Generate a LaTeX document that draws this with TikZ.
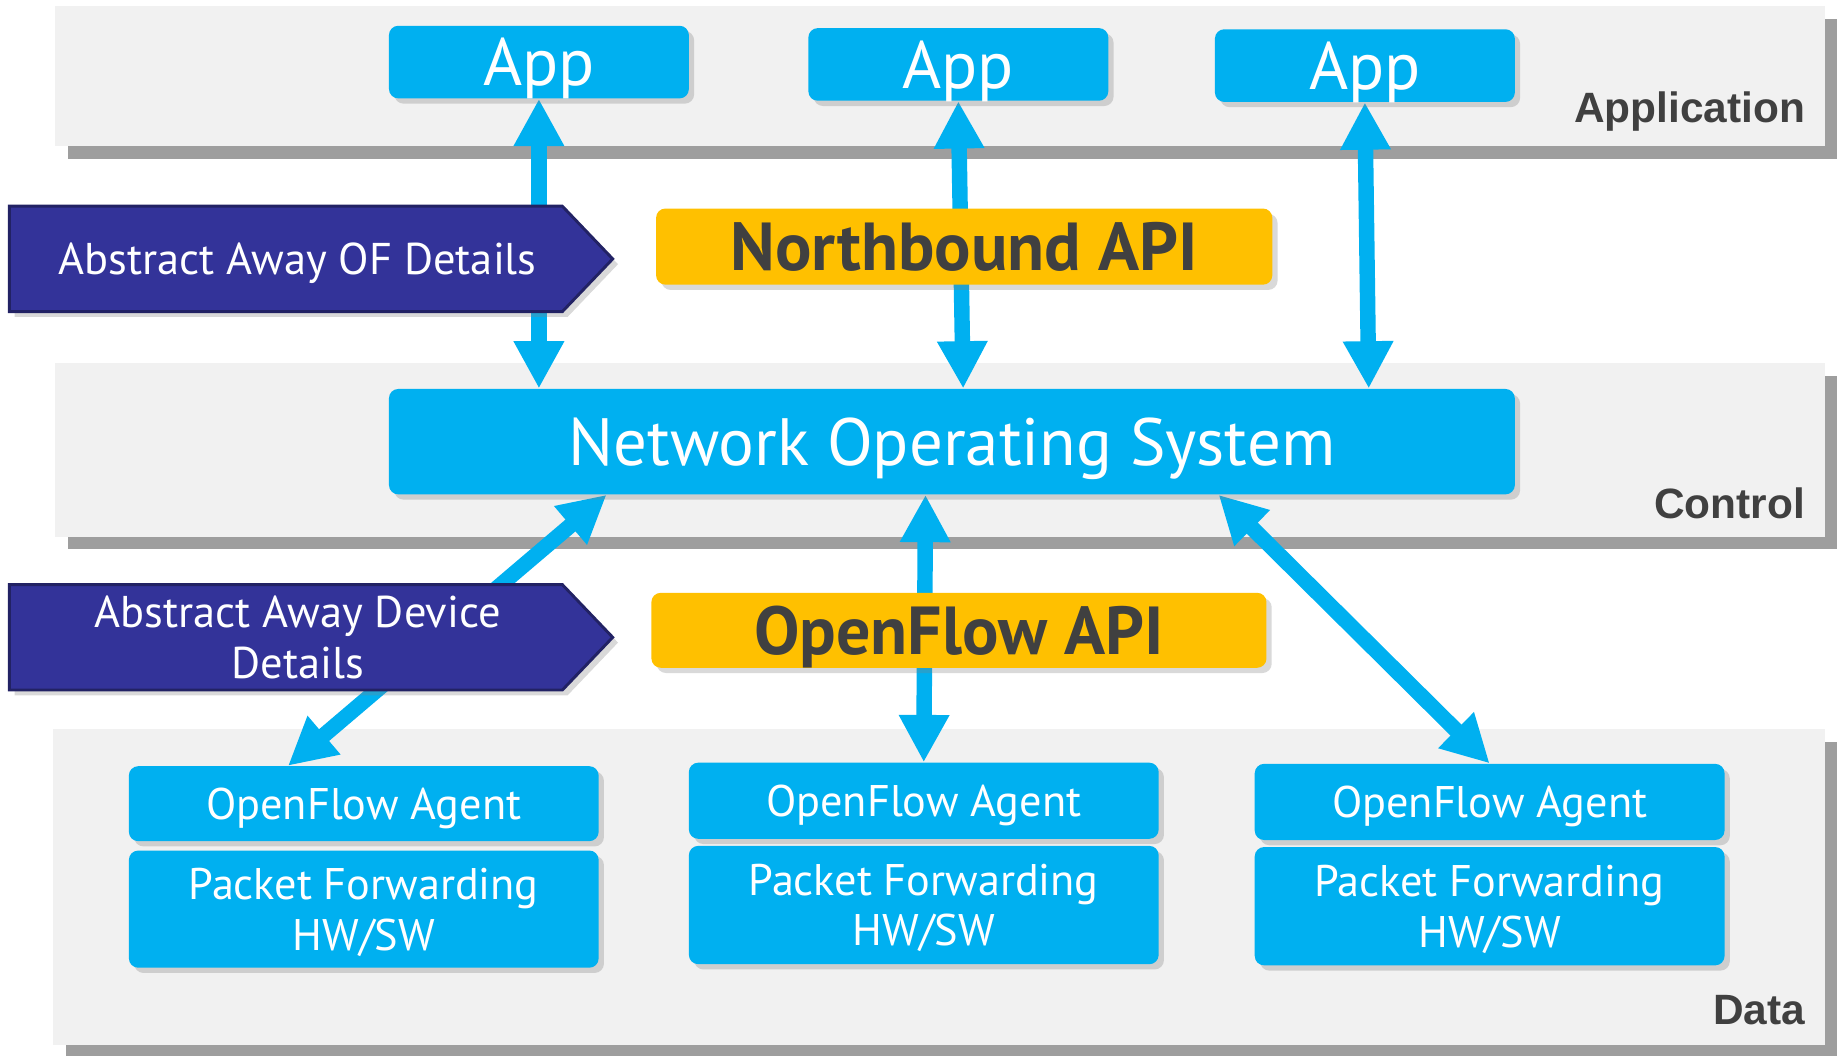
\documentclass[tikz,border=0pt]{standalone}
\usepackage{fontspec}
\setmainfont{PT Sans}
\newfontfamily\labelfont{Liberation Sans}
\usetikzlibrary{arrows.meta,calc,shadows}
\definecolor{mycyan}{RGB}{0,176,240}
\definecolor{myyellow}{RGB}{255,192,0}
\definecolor{mynavy}{RGB}{51,51,153}
\definecolor{mynavyline}{RGB}{34,34,100}
\definecolor{mygray}{RGB}{241,241,241}
\definecolor{myshadow}{RGB}{158,158,158}
\definecolor{mytext}{RGB}{64,64,64}
\pgfdeclarelayer{bg}
\pgfdeclarelayer{mid}
\pgfsetlayers{bg,mid,main}
\tikzset{
  box/.style={rounded corners=1.6mm, fill=mycyan, text=white, align=center, inner sep=0pt, text depth=0pt,
    drop shadow={shadow xshift=0.9mm, shadow yshift=-0.9mm, opacity=.3}},
  api/.style={rounded corners=1.6mm, fill=myyellow, text=mytext, inner sep=0pt, text depth=0pt,
    font=\fontsize{33}{35}\selectfont\bfseries,
    drop shadow={shadow xshift=0.9mm, shadow yshift=-0.9mm, opacity=.3}},
  tag/.style={fill=mynavy, draw=mynavyline, line width=1.4pt,
    drop shadow={shadow xshift=0.9mm, shadow yshift=-0.9mm, opacity=.3}},
  tagtext/.style={text=white, align=center, text depth=0pt, font=\fontsize{21.6}{24.5}\selectfont},
  layer/.style={font=\labelfont\fontsize{20.6}{22}\selectfont\bfseries, text=mytext, anchor=east, inner sep=0pt},
  link/.style={line width=7.5pt, color=mycyan,
    {Triangle[length=23pt,width=23pt]}-{Triangle[length=23pt,width=23pt]}}
}

\begin{document}
\begin{tikzpicture}[x=0.2mm, y=-0.2mm]
  \useasboundingbox (0,0) rectangle (1568,901);

  % layers in the back
  \begin{pgfonlayer}{bg}
    \fill[myshadow] (58,16) rectangle (1568,136);
    \fill[mygray] (47,5) rectangle (1558,125);
    \fill[myshadow] (58,321) rectangle (1568,469);
    \fill[mygray] (47,310) rectangle (1558,458);
    \fill[myshadow] (56,633) rectangle (1568,901);
    \fill[mygray] (45,622) rectangle (1558,892);
  \end{pgfonlayer}

  \node[layer] (lapp) at (1541,95) {Application};
  \node[layer] (lctl) at (1541,430) {Control};
  \node[layer] (ldat) at (1541,862) {Data};

  % apps
  \node[box, minimum width=51.2mm, minimum height=12.4mm, font=\fontsize{32.5}{34}\selectfont] (app1) at (460,53) {App};
  \node[box, minimum width=51.2mm, minimum height=12.4mm, font=\fontsize{32.5}{34}\selectfont] (app2) at (818,55) {App};
  \node[box, minimum width=51.2mm, minimum height=12.4mm, font=\fontsize{32.5}{34}\selectfont] (app3) at (1165,56) {App};

  \node[box, minimum width=192.2mm, minimum height=18mm, font=\fontsize{32.5}{34}\selectfont] (nos) at (812.5,377) {Network Operating System};

  \node[api, minimum width=105.2mm, minimum height=13mm] (nb) at (823,210.5) {Northbound API};
  \node[api, minimum width=105mm, minimum height=12.8mm] (ofapi) at (818.5,538) {OpenFlow API};

  % switches
  \node[box, minimum width=80.2mm, minimum height=12.8mm, font=\fontsize{21.5}{24.5}\selectfont] (ag1) at (310.5,686) {OpenFlow Agent};
  \node[box, minimum width=80.2mm, minimum height=20mm, font=\fontsize{21.5}{24.5}\selectfont] (pf1) at (310.5,776) {Packet Forwarding\\HW/SW};
  \node[box, minimum width=80.2mm, minimum height=13mm, font=\fontsize{21.5}{24.5}\selectfont] (ag2) at (788.5,683.5) {OpenFlow Agent};
  \node[box, minimum width=80.2mm, minimum height=20.2mm, font=\fontsize{21.5}{24.5}\selectfont] (pf2) at (788.5,772.5) {Packet Forwarding\\HW/SW};
  \node[box, minimum width=80.2mm, minimum height=13mm, font=\fontsize{21.5}{24.5}\selectfont] (ag3) at (1271.5,684.5) {OpenFlow Agent};
  \node[box, minimum width=80.2mm, minimum height=20.2mm, font=\fontsize{21.5}{24.5}\selectfont] (pf3) at (1271.5,773.5) {Packet Forwarding\\HW/SW};

  % abstraction tags
  \draw[tag] (8,176) -- (480,176) -- (523,221) -- (480,266) -- (8,266) -- cycle;
  \node[tagtext] (tag1) at (254,221) {Abstract Away OF Details};
  \draw[tag] (8,499) -- (480,499) -- (523,544) -- (480,589) -- (8,589) -- cycle;
  \node[tagtext] (tag2) at (254,544) {Abstract Away Device\\Details};

  \coordinate (n1) at (app1.south |- nos.north);
  \coordinate (n2) at ($(nos.north west)!0.51!(nos.north east)$);
  \coordinate (n3) at ($(nos.north west)!0.87!(nos.north east)$);
  \coordinate (s1) at ($(nos.south west)!0.1935!(nos.south east)$);
  \coordinate (s2) at ($(nos.south west)!0.4766!(nos.south east)$);
  \coordinate (s3) at ($(nos.south west)!0.7367!(nos.south east)$);
  \coordinate (t1) at ($(ag1.north west)!0.339!(ag1.north east)$);

  \begin{pgfonlayer}{mid}
    \foreach \a/\b in {app1.south/n1,app2.south/n2,app3.south/n3,s1/t1,s2/ag2.north,s3/ag3.north}
    \draw[link] (\a) -- (\b);
  \end{pgfonlayer}
\end{tikzpicture}
\end{document}
